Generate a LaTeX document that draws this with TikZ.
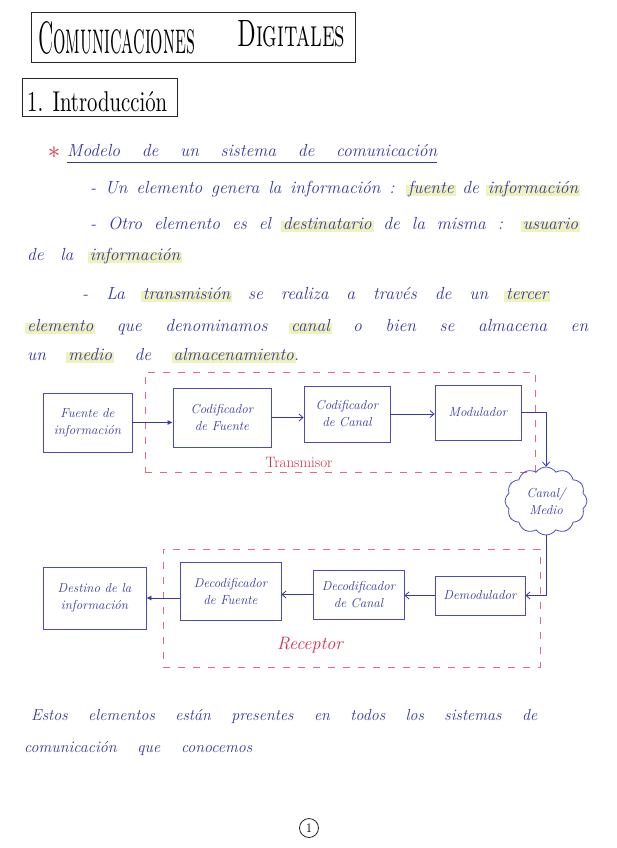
\documentclass[tikz,border=0pt]{standalone}
\usepackage{fontspec}
\usepackage{graphicx}
\usetikzlibrary{arrows.meta,shapes.symbols}
\definecolor{ink}{RGB}{55,55,165}
\definecolor{boxink}{RGB}{75,75,190}
\definecolor{dashred}{RGB}{232,105,125}
\definecolor{redink}{RGB}{215,45,75}
\definecolor{hl}{RGB}{240,242,190}
\newsavebox\hlbox
\newcommand\hlw[1]{\sbox\hlbox{#1}\rlap{\hspace{-2pt}\textcolor{hl}{\rule[-3pt]{\dimexpr\wd\hlbox+4pt\relax}{11pt}}}\usebox\hlbox}
\begin{document}
\begin{tikzpicture}[x=1pt,y=-1pt,
  body/.style={anchor=base west, inner sep=0pt, text=ink, font=\fontsize{17.5}{20}\selectfont\itshape},
  blk/.style={draw=boxink, line width=0.8pt, text=ink, align=center, inner sep=2pt, font=\fontsize{13}{17}\selectfont\itshape},
  frame/.style={draw=dashred, line width=0.8pt, dash pattern=on 7pt off 8pt},
  lbl/.style={text=redink, inner sep=0pt, font=\fontsize{15}{18}\selectfont},
  arr/.style={draw=ink, line width=0.8pt, -{Straight Barb[length=4pt,width=7pt]}},
  arrf/.style={draw=ink, line width=0.8pt, -{Latex[length=5pt,width=5pt]}},
  heading/.style={anchor=base west, inner sep=0pt, text=black}
]
\useasboundingbox[fill=white] (0,0) rectangle (617,848);

% Title
\node[draw=black!85, line width=1pt, minimum width=324pt, minimum height=50pt] (titlebox) at (193,38) {};
\node[heading] (t1) at (38,54) {\resizebox{157pt}{32pt}{\textsc{Comunicaciones}}};
\node[heading] (t2) at (237,47) {\resizebox{108pt}{26pt}{\textsc{Digitales}}};

% Section
\node[draw=black!85, line width=1pt, minimum width=155pt, minimum height=38pt] (secbox) at (99.5,98) {};
\node[heading] (sec) at (27,112) {\resizebox{140pt}{20pt}{1. Introducción}};

% Body text
\node[text=redink, inner sep=0pt, font=\fontsize{24}{24}\selectfont] (ast) at (54,153) {$\ast$};
\node[body] (l0) at (67,157) {\makebox[370pt][s]{Modelo de un sistema de comunicación}};
\draw[draw=ink, line width=0.8pt] ([yshift=-5pt]l0.base west) -- ([yshift=-5pt]l0.base east);
\node[body] (l1) at (90,193) {\makebox[488pt][s]{- Un elemento genera la información : \hlw{fuente} de \hlw{información}}};
\node[body] (l2) at (90,229) {\makebox[488pt][s]{- Otro elemento es el \hlw{destinatario} de la misma : \hlw{usuario}}};
\node[body] (l3) at (27,260) {\makebox[153pt][s]{de la \hlw{información}}};
\node[body] (l4) at (82,299) {\makebox[466pt][s]{- La \hlw{transmisión} se realiza a través de un \hlw{tercer}}};
\node[body] (l5) at (27,331) {\makebox[561pt][s]{\hlw{elemento} que denominamos \hlw{canal} o bien se almacena en}};
\node[body] (l6) at (27,360) {\makebox[272pt][s]{un \hlw{medio} de \hlw{almacenamiento}.}};

% Transmitter
\node[frame, minimum width=390pt, minimum height=100pt] (tx) at (340,422) {};
\node[lbl] (txl) at (299,462) {Transmisor};
\node[blk, minimum width=89pt, minimum height=59pt] (fuente) at (87.5,422.5) {Fuente de\\información};
\node[blk, minimum width=98pt, minimum height=59pt] (codf) at (222,417.5) {Codificador\\de Fuente};
\node[blk, minimum width=86pt, minimum height=56pt] (codc) at (347,414) {Codificador\\de Canal};
\node[blk, minimum width=86pt, minimum height=55pt] (modu) at (478,412.5) {Modulador};

% Channel
\node[blk, cloud, cloud puffs=12, cloud puff arc=110, aspect=1.2, minimum width=82pt, minimum height=68pt, inner sep=0pt] (canal) at (546,501) {Canal/\\Medio};

% Receiver
\node[frame, minimum width=377pt, minimum height=118pt] (rx) at (351.5,608) {};
\node[lbl, font=\fontsize{18}{20}\selectfont\itshape] (rxl) at (310,645) {Receptor};
\node[blk, minimum width=103pt, minimum height=62pt] (destino) at (94.5,598) {Destino de la\\información};
\node[blk, minimum width=101pt, minimum height=58pt] (decf) at (230.5,591) {Decodificador\\de Fuente};
\node[blk, minimum width=91pt, minimum height=49pt] (decc) at (358.5,594.5) {Decodificador\\de Canal};
\node[blk, minimum width=90pt, minimum height=39pt] (demod) at (480,595.5) {Demodulador};

% Connectors
\draw[arrf] (fuente.east) -- (codf.west |- fuente.east);
\draw[arr] (codf.east) -- (codc.west |- codf.east);
\draw[arr] (codc.east) -- (modu.west |- codc.east);
\draw[arr] (modu.east) -| (canal.north);
\draw[arr] (canal.south) |- (demod.east);
\draw[arr] (demod.west) -- (decc.east |- demod.west);
\draw[arr] (decc.west) -- (decf.east |- decc.west);
\draw[arrf] (decf.west |- destino.east) -- (destino.east);

% Closing text
\node[body, font=\fontsize{16}{19}\selectfont\itshape] (b1) at (31,720) {\makebox[506pt][s]{Estos elementos están presentes en todos los sistemas de}};
\node[body, font=\fontsize{16}{19}\selectfont\itshape] (b2) at (24,752) {\makebox[228pt][s]{comunicación que conocemos}};

% Page number
\node[draw=black!85, circle, line width=0.8pt, inner sep=1pt, minimum size=19pt, font=\fontsize{13}{13}\selectfont] (pg) at (309,828) {1};
\end{tikzpicture}
\end{document}
